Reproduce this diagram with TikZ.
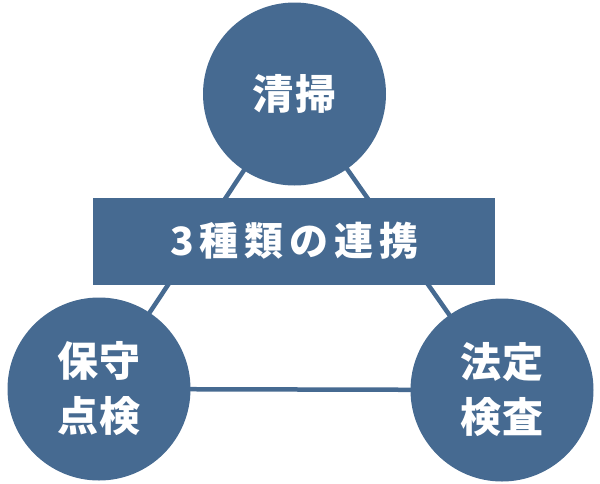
\documentclass[tikz,border=0pt]{standalone}
\usepackage{fontspec}
\newfontfamily\cjk{NotoSansCJK-Black.ttc}[FontIndex=0, LetterSpace=4]
\newfontfamily\cjkwide{NotoSansCJK-Black.ttc}[FontIndex=0, LetterSpace=15]
\usetikzlibrary{backgrounds}
\definecolor{ink}{RGB}{70,106,145}
\tikzset{
    circ/.style={circle, fill=ink, minimum size=183pt, inner sep=0pt,
        text=white, align=center, font=\cjk\fontsize{41}{55}\selectfont},
    band/.style={rectangle, fill=ink, minimum width=402pt, minimum height=87pt,
        inner sep=0pt, text=white, font=\cjkwide\fontsize{39}{44}\selectfont},
    link/.style={draw=ink, line width=4.5pt}
}
\begin{document}
\begin{tikzpicture}[x=1pt, y=-1pt]
    \useasboundingbox (0,0) rectangle (600,483);
    % Tres bloques
    \node[circ] (seiso) at (294.5,94) {清掃};
    \node[circ] (hoshu) at (99,389) {保守\\点検};
    \node[circ] (hotei) at (502,390) {法定\\検査};
    % Lineas del triangulo
    \begin{scope}[on background layer]
        \draw[link] (seiso.center) -- (hoshu.center);
        \draw[link] (seiso.center) -- (hotei.center);
        \draw[link] (hoshu.center) -- (hotei.center);
    \end{scope}
    % Banda central
    \node[band] (renkei) at (294,241) {3種類の連携};
\end{tikzpicture}
\end{document}
